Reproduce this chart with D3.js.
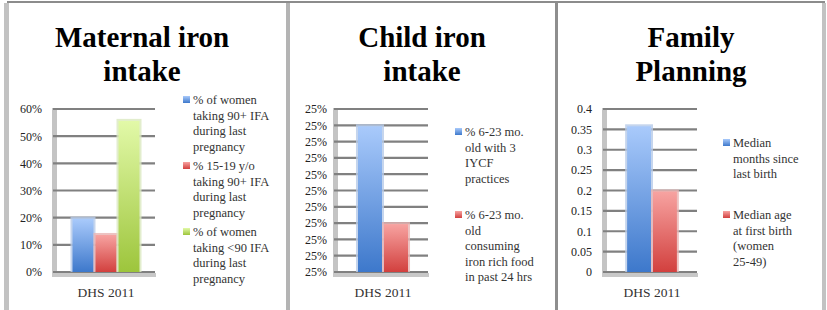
<!DOCTYPE html>
<html>
<head>
<meta charset="utf-8">
<script src="https://cdn.jsdelivr.net/npm/d3@7"></script>
<style>
  html, body { margin: 0; padding: 0; background: #fff; }
  svg { display: block; }
  text { font-family: "Liberation Serif", "Times New Roman", serif; }
</style>
</head>
<body>
<svg id="chart" width="827" height="310"></svg>
<script>
// ---------- DATA ----------
const categories = ["DHS 2011"];

const maternalTitle = ["Maternal iron", "intake"];
const maternalSeries = [
  "% of women taking 90+ IFA during last pregnancy",
  "% 15-19 y/o taking 90+ IFA during last pregnancy",
  "% of women taking <90 IFA during last pregnancy"
];
const maternalLegendLines = [
  ["% of women", "taking 90+ IFA", "during last", "pregnancy"],
  ["% 15-19 y/o", "taking 90+ IFA", "during last", "pregnancy"],
  ["% of women", "taking <90 IFA", "during last", "pregnancy"]
];
const maternalValues = [0.20, 0.14, 0.56];
const maternalTicks = [0, 0.1, 0.2, 0.3, 0.4, 0.5, 0.6];
const maternalTickLabels = ["0%", "10%", "20%", "30%", "40%", "50%", "60%"];

const childTitle = ["Child iron", "intake"];
const childSeries = [
  "% 6-23 mo. old with 3 IYCF practices",
  "% 6-23 mo. old consuming iron rich food in past 24 hrs"
];
const childLegendLines = [
  ["% 6-23 mo.", "old with 3", "IYCF", "practices"],
  ["% 6-23 mo.", "old", "consuming", "iron rich food", "in past 24 hrs"]
];
const childValues = [0.2540, 0.2480];
const childTicks = [0.2450, 0.2460, 0.2470, 0.2480, 0.2490, 0.2500, 0.2510, 0.2520, 0.2530, 0.2540, 0.2550];
const childTickLabels = ["25%", "25%", "25%", "25%", "25%", "25%", "25%", "25%", "25%", "25%", "25%"];

const familyTitle = ["Family", "Planning"];
const familySeries = [
  "Median months since last birth",
  "Median age at first birth (women 25-49)"
];
const familyLegendLines = [
  ["Median", "months since", "last birth"],
  ["Median age", "at first birth", "(women", "25-49)"]
];
const familyValues = [0.36, 0.20];
const familyTicks = [0, 0.05, 0.1, 0.15, 0.2, 0.25, 0.3, 0.35, 0.4];
const familyTickLabels = ["0", "0.05", "0.1", "0.15", "0.2", "0.25", "0.3", "0.35", "0.4"];

const seriesColors = [
  { top: "#a9cafb", bottom: "#3d78cb", halo: "#b7cbe8" },
  { top: "#f7a3a1", bottom: "#d2403e", halo: "#e9b4b3" },
  { top: "#e2f9a8", bottom: "#9dc53c", halo: "#dbe9c0" }
];

// ---------- LAYOUT ----------
const panels = [
  { title: maternalTitle, series: maternalSeries, legend: maternalLegendLines, values: maternalValues,
    ticks: maternalTicks, tickLabels: maternalTickLabels,
    titleX: 142, labelRight: 42, plotLeft: 52, plotRight: 155, groupPad: 0.21,
    legendX: 193, legendY: [100, 166, 232] },
  { title: childTitle, series: childSeries, legend: childLegendLines, values: childValues,
    ticks: childTicks, tickLabels: childTickLabels,
    titleX: 422, labelRight: 327, plotLeft: 333, plotRight: 428, groupPad: 0.365,
    legendX: 465, legendY: [132, 215] },
  { title: familyTitle, series: familySeries, legend: familyLegendLines, values: familyValues,
    ticks: familyTicks, tickLabels: familyTickLabels,
    titleX: 691, labelRight: 592, plotLeft: 602, plotRight: 697, groupPad: 0.37,
    legendX: 733, legendY: [143, 215] }
];
const yTop = 109, yBottom = 272, wallW = 5;

const svg = d3.select("#chart");
const defs = svg.append("defs");
seriesColors.forEach((c, i) => {
  const g = defs.append("linearGradient").attr("id", "grad" + i)
    .attr("x1", 0).attr("y1", 0).attr("x2", 0).attr("y2", 1);
  g.append("stop").attr("offset", "0%").attr("stop-color", c.top);
  g.append("stop").attr("offset", "100%").attr("stop-color", c.bottom);
});

// frame
svg.append("rect").attr("x", 4).attr("y", 3).attr("width", 5).attr("height", 307).attr("fill", "#c2c2c2");
svg.append("rect").attr("x", 7).attr("y", 1).attr("width", 818).attr("height", 2).attr("fill", "#8c8c8c");
svg.append("rect").attr("x", 286).attr("y", 3).attr("width", 4).attr("height", 307).attr("fill", "#b4b4b4");
svg.append("rect").attr("x", 555).attr("y", 3).attr("width", 3).attr("height", 307).attr("fill", "#8e8e8e");
svg.append("rect").attr("x", 822).attr("y", 3).attr("width", 4).attr("height", 307).attr("fill", "#c2c2c2");

panels.forEach(p => {
  const g = svg.append("g");

  // title
  p.title.forEach((t, i) => {
    g.append("text").attr("x", p.titleX).attr("y", 47 + i * 34)
      .attr("text-anchor", "middle").attr("font-size", 29).attr("font-weight", "bold")
      .attr("fill", "#000").text(t);
  });

  const y = d3.scaleLinear()
    .domain([p.ticks[0], p.ticks[p.ticks.length - 1]])
    .range([yBottom, yTop]);

  const x0 = d3.scaleBand().domain(categories)
    .range([p.plotLeft + wallW, p.plotRight]).paddingInner(0).paddingOuter(p.groupPad);
  const x1 = d3.scaleBand().domain(p.series).range([0, x0.bandwidth()]).padding(0);

  // wall
  g.append("rect").attr("x", p.plotLeft).attr("y", yTop - 1)
    .attr("width", wallW).attr("height", yBottom - yTop + 5).attr("fill", "#c4c4c4");

  // gridlines
  g.selectAll(".grid").data(p.ticks).enter().append("line")
    .attr("x1", p.plotLeft + 1).attr("x2", p.plotRight)
    .attr("y1", d => y(d)).attr("y2", d => y(d))
    .attr("stroke", "#808080").attr("stroke-width", 2.2);

  // floor
  g.append("rect").attr("x", p.plotLeft).attr("y", yBottom + 1)
    .attr("width", p.plotRight - p.plotLeft + 1).attr("height", 4).attr("fill", "#c8c8c8");

  // y axis labels via d3 axis
  const axis = d3.axisLeft(y).tickValues(p.ticks)
    .tickFormat((d, i) => p.tickLabels[i]).tickSize(0).tickPadding(0);
  const ag = g.append("g").attr("transform", `translate(${p.labelRight},0)`).call(axis);
  ag.select(".domain").remove();
  ag.selectAll("text").attr("font-family", "Liberation Serif").attr("font-size", 12).attr("fill", "#222");

  // bars
  const cat = categories[0];
  p.series.forEach((s, i) => {
    const bx = x0(cat) + x1(s);
    const bw = x1.bandwidth();
    g.append("rect").attr("x", bx - 1).attr("y", y(p.values[i]) - 1)
      .attr("width", bw + 2).attr("height", yBottom - y(p.values[i]) + 1)
      .attr("fill", seriesColors[i].halo).attr("opacity", 0.8);
    g.append("rect").attr("x", bx + 1).attr("y", y(p.values[i]) + 1)
      .attr("width", bw - 2).attr("height", yBottom - y(p.values[i]) - 1)
      .attr("fill", `url(#grad${i})`);
  });

  // category label
  g.append("text").attr("x", x0(cat) + x0.bandwidth() / 2).attr("y", 297)
    .attr("text-anchor", "middle").attr("font-size", 13.5).attr("fill", "#333").text(cat);

  // legend
  p.legend.forEach((lines, i) => {
    const ly = p.legendY[i];
    g.append("rect").attr("x", p.legendX - 10).attr("y", ly - 4)
      .attr("width", 7).attr("height", 7).attr("fill", `url(#grad${i})`);
    lines.forEach((ln, j) => {
      g.append("text").attr("x", p.legendX).attr("y", ly + j * 15.5)
        .attr("dy", "0.35em").attr("font-size", 12.5).attr("fill", "#333").text(ln);
    });
  });
});
</script>
</body>
</html>
